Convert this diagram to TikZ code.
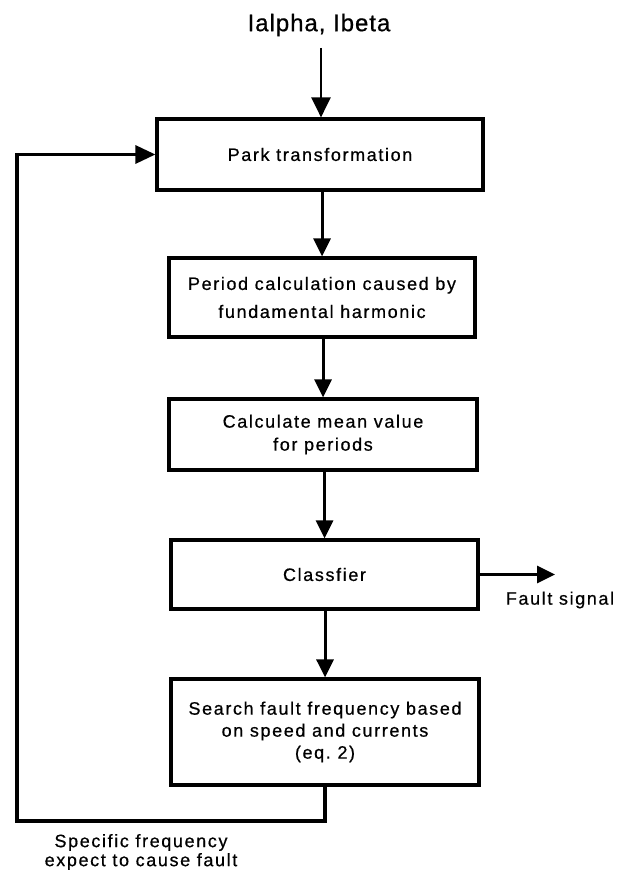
\documentclass[tikz,border=0pt]{standalone}
\usepackage{fontspec}
\setmainfont{Liberation Sans}[LetterSpace=9,FakeBold=0.6]
\newfontfamily\titlefont{Liberation Sans}[LetterSpace=4,FakeBold=0.6]
\usetikzlibrary{arrows.meta}
\begin{document}
\begin{tikzpicture}[x=1pt,y=-1pt,
  box/.style={draw, line width=3.2pt, inner sep=0pt, align=center},
  flow/.style={line width=3pt, -{Triangle[length=18pt,width=17pt]}},
  lbl/.style={inner sep=0pt, align=center}]
\useasboundingbox (0,0) rectangle (627,874);
\node[lbl, font=\titlefont\fontsize{24}{28}\selectfont] (title) at (319,25) {Ialpha, Ibeta};
\node[box, minimum width=326pt, minimum height=71pt, font=\fontsize{18}{24}\selectfont] (park) at (320,154.5) {Park transformation};
\node[box, minimum width=306pt, minimum height=79pt, font=\fontsize{18}{28}\selectfont] (period) at (322,297.5) {Period calculation caused by\\fundamental harmonic};
\node[box, minimum width=308pt, minimum height=71pt, font=\fontsize{18}{23}\selectfont] (mean) at (323,434.5) {Calculate mean value\\for periods};
\node[box, minimum width=307pt, minimum height=69pt, font=\fontsize{18}{24}\selectfont] (cls) at (324.5,574.5) {Classfier};
\node[box, minimum width=308pt, minimum height=106pt, font=\fontsize{18}{22}\selectfont] (search) at (325,732) {Search fault frequency based\\on speed and currents\\(eq.~2)};
\node[lbl, font=\fontsize{18}{19}\selectfont] (fault) at (560,600) {Fault signal};
\node[lbl, font=\fontsize{18}{19}\selectfont] (spec) at (141,852) {Specific frequency\\expect to cause fault};
\coordinate (in) at (321,48);
\coordinate (fs) at (555,574.5);
\coordinate (fb) at (17,821);
\draw[flow, line width=2.4pt, -{Triangle[length=20pt,width=19pt]}] (in) -- (in |- park.north);
\draw[flow] (period.north |- park.south) -- (period.north);
\draw[flow] (mean.north |- period.south) -- (mean.north);
\draw[flow] (cls.north |- mean.south) -- (cls.north);
\draw[flow] (search.north |- cls.south) -- (search.north);
\draw[flow] (cls.east) -- (fs);
\draw[flow, line width=3.2pt, -{Triangle[length=20pt,width=18pt]}] (search.south) -- (search.south |- fb) -- (fb) -- (fb |- park.west) -- (park.west);
\end{tikzpicture}
\end{document}
